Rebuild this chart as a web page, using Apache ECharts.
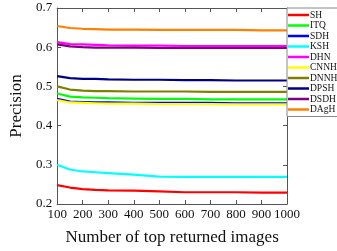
<!DOCTYPE html>
<html><head><meta charset="utf-8">
<script src="https://cdn.jsdelivr.net/npm/echarts@6/dist/echarts.min.js"></script>
<style>html,body{margin:0;padding:0;background:#fff}#c{width:337px;height:251px}</style>
</head><body><div id="c"></div>
<script>
const xs = [100,150,200,250,300,400,500,600,700,800,900,1000];
const SH   = [0.248,0.242,0.238,0.236,0.235,0.234,0.232,0.230,0.230,0.230,0.229,0.229];
const ITQ  = [0.482,0.474,0.472,0.471,0.470,0.469,0.468,0.468,0.467,0.467,0.467,0.467];
const SDH  = [0.468,0.461,0.460,0.459,0.459,0.458,0.458,0.458,0.458,0.457,0.457,0.457];
const KSH  = [0.300,0.288,0.283,0.281,0.279,0.275,0.270,0.269,0.269,0.269,0.269,0.269];
const DHN  = [0.613,0.608,0.607,0.606,0.605,0.604,0.604,0.603,0.603,0.603,0.603,0.603];
const CNNH = [0.465,0.459,0.458,0.457,0.456,0.456,0.455,0.455,0.455,0.454,0.454,0.454];
const DNNH = [0.500,0.492,0.489,0.488,0.488,0.487,0.487,0.487,0.486,0.486,0.486,0.486];
const DPSH = [0.526,0.521,0.519,0.519,0.518,0.517,0.517,0.516,0.516,0.515,0.515,0.515];
const DSDH = [0.607,0.602,0.600,0.599,0.599,0.599,0.598,0.598,0.598,0.598,0.598,0.598];
const DAgH = [0.654,0.649,0.647,0.646,0.645,0.645,0.644,0.644,0.644,0.644,0.643,0.643];
const names = ['SH','ITQ','SDH','KSH','DHN','CNNH','DNNH','DPSH','DSDH','DAgH'];
const values = [SH,ITQ,SDH,KSH,DHN,CNNH,DNNH,DPSH,DSDH,DAgH];
const colors = ['#ff0000','#00ff00','#0000ff','#00ffff','#ff00ff','#ffff00','#808000','#000080','#800080','#ff8000'];
const xTicks = [100,200,300,400,500,600,700,800,900,1000];
const yTicks = [0.2,0.3,0.4,0.5,0.6,0.7];

const font = 'Liberation Serif';
const axLine = {show:true, lineStyle:{color:'#555', width:1}};
const tick = {inside:true, length:4, lineStyle:{color:'#555'}};
const chart = echarts.init(document.getElementById('c'));
chart.setOption({
  animation:false,
  grid:{left:42, right:50, top:8, bottom:46},
  legend:{
    orient:'vertical', left:287, top:8, icon:'rect', itemWidth:21, itemHeight:2.5, itemGap:0.5,
    backgroundColor:'#fff', borderColor:'#888', borderWidth:1, padding:[2,1,2,1],
    textStyle:{fontFamily:font, fontSize:9.5, lineHeight:10, color:'#111', padding:[0,0,0,-4]},
    data:names
  },
  xAxis:[
    {type:'value', min:100, max:1000, interval:100, axisLine:axLine, axisTick:tick, splitLine:{show:false},
     axisLabel:{fontFamily:font, fontSize:13, color:'#111', margin:4, formatter:v=>String(v)},
     name:'Number of top returned images', nameLocation:'middle', nameGap:25,
     nameTextStyle:{fontFamily:font, fontSize:17, color:'#111'}},
    {type:'value', position:'top', min:100, max:1000, interval:100, axisLine:axLine,
     axisTick:tick, axisLabel:{show:false}, splitLine:{show:false}}
  ],
  yAxis:[
    {type:'value', min:0.2, max:0.7, interval:0.1, axisLine:axLine, axisTick:tick, splitLine:{show:false},
     axisLabel:{fontFamily:font, fontSize:13, color:'#111', margin:5, formatter:v=>v.toFixed(1)},
     name:'Precision', nameLocation:'middle', nameGap:31,
     nameTextStyle:{fontFamily:font, fontSize:17, color:'#111'}},
    {type:'value', position:'right', min:0.2, max:0.7, interval:0.1, axisLine:axLine,
     axisTick:tick, axisLabel:{show:false}, splitLine:{show:false}}
  ],
  series: names.map((n,i)=>({
    name:n, type:'line', symbol:'none', color:colors[i],
    lineStyle:{width:2.2, color:colors[i]},
    data: xs.map((x,j)=>[x, values[i][j]])
  }))
});
</script></body></html>
